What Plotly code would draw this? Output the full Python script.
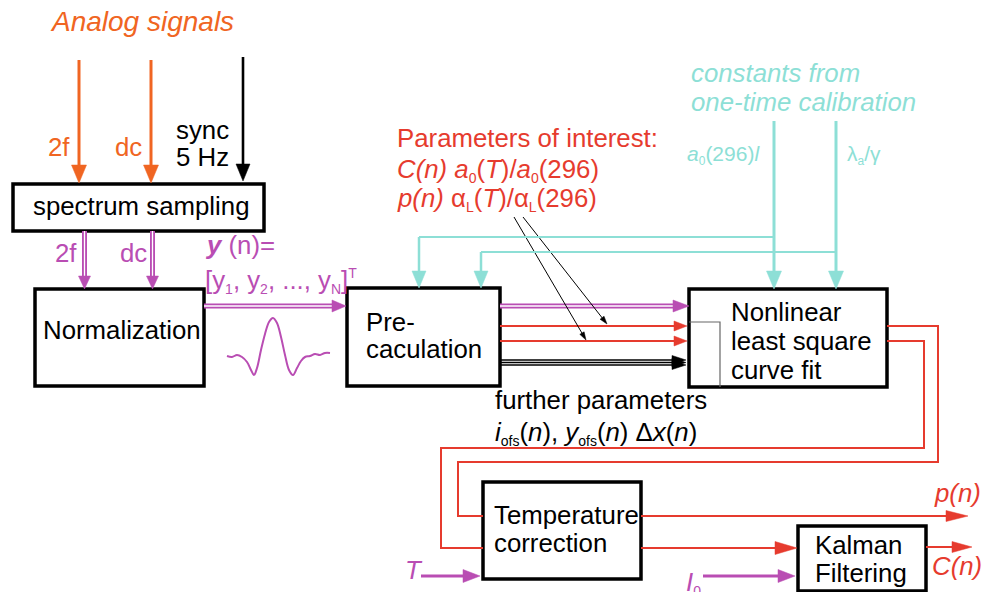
import plotly.graph_objects as go
import math


def sb(s, px=14):
    return f"<sub><span style='font-size:{px}px'>{s}</span></sub>"


# ---------------- content (labels / values) ----------------
block_labels = {
    "sampling": ["spectrum sampling"],
    "norm": ["Normalization"],
    "precalc": ["Pre-", "caculation"],
    "fit": ["Nonlinear", "least square", "curve fit"],
    "temp": ["Temperature", "correction"],
    "kalman": ["Kalman", "Filtering"],
}
title_analog = "<i>Analog signals</i>"
input_labels = ["2f", "dc"]
sync_labels = ["sync", "5 Hz"]
calib_labels = ["<i>constants from</i>", "<i>one-time calibration</i>"]
calib_consts = ["<i>a</i>" + sb("0", 12) + "(296)<i>l</i>", "λ" + sb("a", 12) + "/γ"]
interest_labels = [
    "Parameters of interest:",
    "<i>C(n) a</i>" + sb("0") + "(<i>T</i>)/<i>a</i>" + sb("0") + "(296)",
    "<i>p(n)</i> α" + sb("L") + "(<i>T</i>)/α" + sb("L") + "(296)",
]
vector_labels = ["<b><i>y</i></b> (n)=",
                 "[y" + sb("1") + ", y" + sb("2") + ", ..., y" + sb("N") + "]<sup><span style='font-size:14px'>T</span></sup>"]
further_labels = ["further parameters",
                  "<i>i</i>" + sb("ofs") + "(<i>n</i>), <i>y</i>" + sb("ofs") + "(<i>n</i>) Δ<i>x</i>(<i>n</i>)"]
output_labels = ["<i>p(n)</i>", "<i>C(n)</i>"]
side_inputs = ["<i>T</i>", "<i>I</i>" + sb("0")]

# small 2f line-shape sketch (pixel units)
wave_x = [227, 232, 237, 242, 247, 251, 254, 257, 261, 265, 269, 273, 277,
          281, 285, 289, 293, 297, 301, 305, 310, 315, 320, 325, 330]
wave_y = [356, 357, 355, 357, 362, 370, 375, 368, 350, 334, 322, 318, 323,
          337, 355, 370, 375, 368, 361, 357, 356, 354, 355, 353, 353]

# ---------------- styles ----------------
ORANGE = "#F06522"
MAGENTA = "#B94DB3"
CYAN = "#8DDFD6"
RED = "#E63B2E"
BLACK = "#000000"
FONT = "Liberation Sans, Arial, sans-serif"
FS = 25.8

W, H = 993, 592

# block geometry (pixel layout)
boxes = {
    "sampling": (13, 184, 264, 231),
    "norm": (35, 289, 204, 386),
    "precalc": (347, 288, 500, 386),
    "fit": (689, 289, 887, 387),
    "temp": (483, 482, 641, 579),
    "kalman": (798, 526, 926, 591),
}

shapes = []
annots = []


def seg(pts, color, width):
    d = "M " + " L ".join(f"{x},{y}" for x, y in pts)
    shapes.append(dict(type="path", path=d, line=dict(color=color, width=width),
                       fillcolor="rgba(0,0,0,0)", layer="above"))


def head(tx, ty, dx, dy, length, width, color):
    n = math.hypot(dx, dy)
    ux, uy = dx / n, dy / n
    bx, by = tx - ux * length, ty - uy * length
    px, py = -uy * width / 2, ux * width / 2
    d = f"M {tx},{ty} L {bx+px},{by+py} L {bx-px},{by-py} Z"
    shapes.append(dict(type="path", path=d, line=dict(color=color, width=0.5),
                       fillcolor=color, layer="above"))


def arrow(pts, color, width, hl, hw):
    (x0, y0), (x1, y1) = pts[-2], pts[-1]
    n = math.hypot(x1 - x0, y1 - y0)
    ux, uy = (x1 - x0) / n, (y1 - y0) / n
    short = pts[:-1] + [(x1 - ux * hl * 0.8, y1 - uy * hl * 0.8)]
    seg(short, color, width)
    head(x1, y1, x1 - x0, y1 - y0, hl, hw, color)


def double_arrow(p0, p1, color, hl, hw):
    (x0, y0), (x1, y1) = p0, p1
    n = math.hypot(x1 - x0, y1 - y0)
    ux, uy = (x1 - x0) / n, (y1 - y0) / n
    e = (x1 - ux * hl * 0.8, y1 - uy * hl * 0.8)
    seg([p0, e], color, 5)
    seg([p0, e], "white", 1.3)
    head(x1, y1, x1 - x0, y1 - y0, hl, hw, color)


def text(x, y, s, color=BLACK, size=FS, anchor="left"):
    dx = -2 if anchor == "left" else 2
    annots.append(dict(x=x + dx, y=y, text=s, showarrow=False, xanchor=anchor,
                       yanchor="middle", font=dict(family=FONT, size=size, color=color)))


# ---------------- boxes ----------------
for k, (x0, y0, x1, y1) in boxes.items():
    shapes.append(dict(type="rect", x0=x0, y0=y0, x1=x1, y1=y1,
                       line=dict(color=BLACK, width=3.5), fillcolor="white", layer="below"))
# small inner frame in fit box
seg([(689, 322), (720, 322), (720, 387)], "#666666", 1.2)

# ---------------- top inputs ----------------
text(50, 21, title_analog, ORANGE, 28)
arrow([(79, 60), (79, 183)], ORANGE, 3, 18, 15)
arrow([(151, 60), (151, 183)], ORANGE, 3, 18, 15)
text(48, 147, input_labels[0], ORANGE)
text(115, 147, input_labels[1], ORANGE)
arrow([(243, 57), (243, 181)], BLACK, 2.6, 17, 14)
text(176, 130, sync_labels[0])
text(176, 157, sync_labels[1])

# sampling -> normalization
double_arrow((84.5, 231), (84.5, 289), MAGENTA, 13, 12)
double_arrow((152.5, 231), (152.5, 289), MAGENTA, 13, 12)
text(55, 253, input_labels[0], MAGENTA)
text(120, 253, input_labels[1], MAGENTA)

# normalization -> precalc
double_arrow((204, 306), (346, 306), MAGENTA, 14, 12)
text(205, 245, vector_labels[0], MAGENTA)
text(205, 281, vector_labels[1], MAGENTA)

# precalc -> fit
double_arrow((500, 306), (689, 306), MAGENTA, 16, 12)
arrow([(500, 326), (687, 326)], RED, 2, 13, 10)
arrow([(500, 341), (687, 341)], RED, 2, 13, 10)
for yy in (360, 362.5, 365):
    arrow([(500, yy), (686, yy)], BLACK, 1.4, 14, 9)

# parameters of interest
text(397, 138, interest_labels[0], RED)
text(397, 170, interest_labels[1], RED)
text(397, 199, interest_labels[2], RED)
arrow([(514, 217), (586, 340)], BLACK, 1, 8, 5)
arrow([(523, 217), (607, 324)], BLACK, 1, 8, 5)

# calibration constants
text(691, 73, calib_labels[0], CYAN)
text(691, 102, calib_labels[1], CYAN)
text(687, 155, calib_consts[0], CYAN, 21)
text(847, 155, calib_consts[1], CYAN, 21)
arrow([(774, 121), (774, 289)], CYAN, 3, 18, 15)
arrow([(836, 121), (836, 289)], CYAN, 3, 18, 15)
seg([(774, 237), (419, 237)], CYAN, 2)
arrow([(419, 237), (419, 288)], CYAN, 2.5, 17, 14)
seg([(836, 252), (481, 252)], CYAN, 2)
arrow([(481, 252), (481, 288)], CYAN, 2.5, 17, 14)

# further parameters
text(495, 400, further_labels[0])
text(495, 433, further_labels[1])

# fit -> temperature correction
seg([(887, 326), (938, 326), (938, 462), (458, 462), (458, 516), (483, 516)], RED, 2)
seg([(887, 341), (924, 341), (924, 448), (441, 448), (441, 548), (483, 548)], RED, 2)

# temperature -> outputs
arrow([(641, 516), (968, 516)], RED, 2, 22, 11)
text(981, 493, output_labels[0], RED, anchor="right")
arrow([(641, 548), (797, 548)], RED, 2, 22, 13)
arrow([(926, 547), (972, 547)], RED, 2, 20, 11)
text(982, 566, output_labels[1], RED, anchor="right")

# side inputs
text(405, 570, side_inputs[0], MAGENTA)
arrow([(421, 576), (480, 576)], MAGENTA, 3, 17, 13)
text(686, 583, side_inputs[1], MAGENTA)
arrow([(703, 576), (795, 576)], MAGENTA, 3, 17, 13)

# block labels
text(33, 206, block_labels["sampling"][0])
text(43, 330, block_labels["norm"][0])
text(366, 322, block_labels["precalc"][0])
text(366, 349, block_labels["precalc"][1])
for i, s in enumerate(block_labels["fit"]):
    text(731, 312 + 29 * i, s)
text(494, 515, block_labels["temp"][0])
text(494, 543, block_labels["temp"][1])
text(815, 545, block_labels["kalman"][0])
text(815, 573, block_labels["kalman"][1])

fig = go.Figure()
fig.add_trace(go.Scatter(x=wave_x, y=wave_y, mode="lines",
                         line=dict(color=MAGENTA, width=2, shape="spline"),
                         hoverinfo="skip"))
fig.update_layout(
    width=W, height=H, margin=dict(l=0, r=0, t=0, b=0),
    paper_bgcolor="white", plot_bgcolor="white",
    xaxis=dict(range=[0, W], visible=False, fixedrange=True),
    yaxis=dict(range=[H, 0], visible=False, fixedrange=True),
    shapes=shapes, annotations=annots, showlegend=False,
)
fig.write_html("out.html", config={"displayModeBar": False},
               post_script="document.body.style.margin='0';document.body.style.overflow='hidden';")
